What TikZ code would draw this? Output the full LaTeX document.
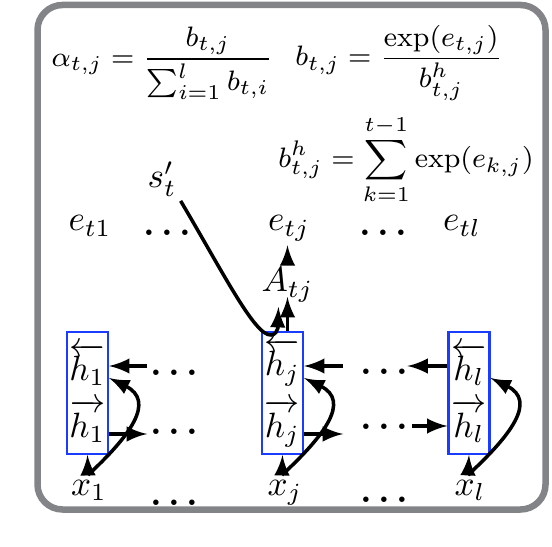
\documentclass[tikz,border=0pt]{standalone}
\usepackage{amsmath}
\usepackage{tikz}
\usetikzlibrary{arrows,calc}
\definecolor{framegray}{RGB}{130,132,136}
\definecolor{hblue}{RGB}{25,60,255}
\tikzset{
  eqn/.style={inner sep=1pt,font=\fontsize{8.3pt}{10pt}\selectfont},
  lbl/.style={inner sep=1pt,anchor=base},
  dts/.style={inner sep=1pt,anchor=base,font=\boldmath},
  hbox/.style={draw=hblue,line width=0.6pt,minimum width=0.41cm,minimum height=1.22cm,inner sep=0pt,align=center},
  arr/.style={->,>=latex,line width=1pt}
}

\begin{document}
\begin{tikzpicture}
\useasboundingbox (0,0) rectangle (5.52,5.46);
\draw[framegray,line width=0.065cm,rounded corners=0.25cm] (0.375,0.365) rectangle (5.455,5.41); % frame
\node[eqn] (alpha) at (1.625,4.83) {$\alpha_{t,j}=\dfrac{b_{t,j}}{\sum_{i=1}^{l}b_{t,i}}$}; % alpha
\node[eqn] (bt) at (3.99,4.83) {$b_{t,j}=\dfrac{\exp(e_{t,j})}{b^h_{t,j}}$}; % b
\node[eqn] (bh) at (4.06,3.86) {$\displaystyle b^h_{t,j}=\sum_{k=1}^{t-1}\exp(e_{k,j})$}; % b^h
\node[lbl] (st) at (1.62,3.58) {$s'_t$}; % query
\node[lbl] (et1) at (0.90,3.15) {$e_{t1}$}; % scores
\node[dts] (de) at (1.67,3.10) {$\ldots$};
\node[lbl] (etj) at (2.89,3.15) {$e_{tj}$};
\node[dts] (dee) at (3.83,3.10) {$\ldots$};
\node[lbl] (etl) at (4.62,3.15) {$e_{tl}$};
\node[lbl] (A) at (2.875,2.54) {$A_{tj}$}; % attention
\node[hbox] (h1) at (0.875,1.53) {$\overleftarrow{h_1}$\\[3pt]$\overrightarrow{h_1}$}; % states
\node[hbox] (hj) at (2.825,1.53) {$\overleftarrow{h_j}$\\[3pt]$\overrightarrow{h_j}$};
\node[hbox] (hl) at (4.69,1.53) {$\overleftarrow{h_l}$\\[3pt]$\overrightarrow{h_l}$};
\node[dts] (d1u) at (1.74,1.705) {$\ldots$}; % middle dots
\node[dts] (d1l) at (1.74,1.115) {$\ldots$};
\node[dts] (d2u) at (3.84,1.715) {$\ldots$};
\node[dts] (d2l) at (3.84,1.165) {$\ldots$};
\node[lbl] (x1) at (0.89,0.51) {$x_1$}; % inputs
\node[dts] (dx1) at (1.74,0.41) {$\ldots$};
\node[lbl] (xj) at (2.85,0.51) {$x_j$};
\node[dts] (dx2) at (3.84,0.44) {$\ldots$};
\node[lbl] (xl) at (4.70,0.51) {$x_l$};
\coordinate (f1) at (0.88,0.71); % forks
\coordinate (fj) at (2.82,0.71);
\coordinate (fl) at (4.68,0.71);
\draw[arr] (f1) -- (h1.south); % input to state
\draw[arr] (fj) -- (hj.south);
\draw[arr] (fl) -- (hl.south);
\draw[arr] (f1) .. controls +(0.42,0.39) and +(0.47,-0.23) .. ([yshift=0.15cm]h1.east); % input to backward state
\draw[arr] (fj) .. controls +(0.42,0.39) and +(0.47,-0.23) .. ([yshift=0.15cm]hj.east);
\draw[arr] (fl) .. controls +(0.42,0.39) and +(0.47,-0.23) .. ([yshift=0.15cm]hl.east);
\draw[arr] ([shift={(0.38,0.27)}]h1.east) -- ([yshift=0.27cm]h1.east); % backward
\draw[arr] ([shift={(0.39,0.27)}]hj.east) -- ([yshift=0.27cm]hj.east);
\draw[arr] ([yshift=0.27cm]hl.west) -- ++(-0.40,0);
\draw[arr] ([yshift=-0.41cm]h1.east) -- ++(0.38,0); % forward
\draw[arr] ([yshift=-0.41cm]hj.east) -- ++(0.39,0);
\draw[arr] ([shift={(-0.35,-0.33)}]hl.west) -- ([yshift=-0.33cm]hl.west);
\draw[arr] (hj.north -| A.base) -- ([yshift=-0.05cm]A.base); % state to attention
\draw[arr] (A.north) -- (A.north |- etj.south); % attention to score
\draw[arr] (st.south east) .. controls (2.25,2.7) and (2.55,2.1) .. (2.71,2.11) .. controls (2.80,2.12) and (2.78,2.25) .. ([shift={(-0.09,-0.15)}]A.base); % query
\end{tikzpicture}
\end{document}
